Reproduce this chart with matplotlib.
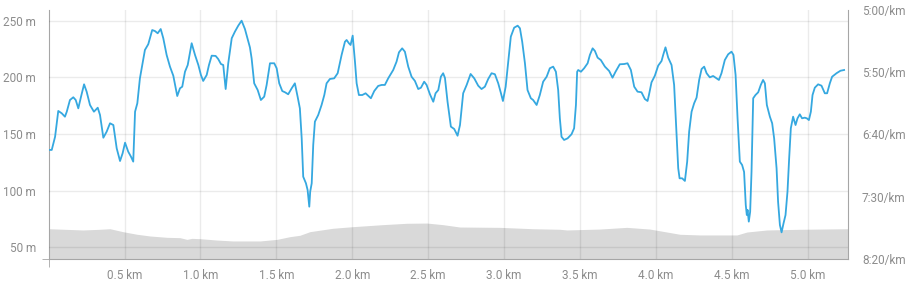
import matplotlib
matplotlib.use("Agg")
import matplotlib.pyplot as plt

plt.rcParams['font.family'] = ['Roboto', 'DejaVu Sans']

# pace (s/km) against distance (km)
pace_km = [0.0, 0.020, 0.042, 0.063, 0.086, 0.107, 0.119, 0.140, 0.162, 0.178, 0.195, 0.213, 0.233, 0.250,
           0.272, 0.298, 0.323, 0.338, 0.360, 0.382, 0.404, 0.426, 0.448, 0.470, 0.487, 0.503, 0.524, 0.542,
           0.557, 0.569, 0.584, 0.601, 0.634, 0.656, 0.682, 0.700, 0.718, 0.738, 0.755, 0.777, 0.799, 0.821,
           0.847, 0.865, 0.880, 0.898, 0.916, 0.942, 0.964, 0.986, 1.003, 1.018, 1.041, 1.056, 1.074, 1.100,
           1.117, 1.135, 1.150, 1.166, 1.183, 1.206, 1.227, 1.249, 1.271, 1.293, 1.326, 1.337, 1.354, 1.377,
           1.398, 1.420, 1.436, 1.458, 1.486, 1.502, 1.519, 1.539, 1.557, 1.578, 1.601, 1.622, 1.640, 1.655,
           1.667, 1.677, 1.695, 1.706, 1.717, 1.723, 1.733, 1.743, 1.754, 1.776, 1.798, 1.816, 1.831, 1.853,
           1.881, 1.904, 1.930, 1.952, 1.963, 1.978, 1.989, 2.003, 2.018, 2.029, 2.044, 2.066, 2.088, 2.105,
           2.123, 2.145, 2.171, 2.194, 2.215, 2.237, 2.270, 2.292, 2.308, 2.329, 2.347, 2.369, 2.391, 2.413,
           2.435, 2.453, 2.474, 2.490, 2.512, 2.534, 2.549, 2.567, 2.584, 2.599, 2.611, 2.628, 2.650, 2.672,
           2.694, 2.710, 2.731, 2.754, 2.780, 2.804, 2.830, 2.852, 2.874, 2.896, 2.918, 2.940, 2.962, 2.980,
           2.993, 3.011, 3.028, 3.045, 3.067, 3.090, 3.105, 3.120, 3.138, 3.155, 3.177, 3.192, 3.215, 3.236,
           3.258, 3.281, 3.302, 3.324, 3.342, 3.357, 3.368, 3.379, 3.396, 3.419, 3.445, 3.462, 3.474, 3.482,
           3.489, 3.507, 3.528, 3.551, 3.566, 3.584, 3.599, 3.617, 3.638, 3.665, 3.693, 3.715, 3.735, 3.763,
           3.792, 3.814, 3.836, 3.858, 3.880, 3.906, 3.928, 3.946, 3.955, 3.972, 3.994, 4.016, 4.038, 4.049,
           4.064, 4.082, 4.104, 4.121, 4.134, 4.148, 4.157, 4.174, 4.192, 4.207, 4.220, 4.236, 4.253, 4.269,
           4.286, 4.302, 4.319, 4.335, 4.356, 4.378, 4.400, 4.416, 4.433, 4.455, 4.477, 4.499, 4.512, 4.526,
           4.539, 4.554, 4.569, 4.582, 4.593, 4.600, 4.605, 4.613, 4.622, 4.631, 4.642, 4.657, 4.675, 4.692,
           4.707, 4.719, 4.732, 4.752, 4.767, 4.780, 4.796, 4.806, 4.818, 4.829, 4.842, 4.855, 4.868, 4.879,
           4.890, 4.905, 4.921, 4.934, 4.949, 4.964, 4.982, 4.995, 5.009, 5.022, 5.033, 5.048, 5.070, 5.092,
           5.114, 5.129, 5.147, 5.162, 5.191, 5.217, 5.241]
pace_sec = [412.4, 412.4, 401.8, 381.1, 383.0, 385.7, 381.7, 372.3, 370.1, 372.3, 379.0, 369.6, 359.7, 365.6,
            376.3, 381.7, 378.5, 384.3, 402.6, 397.7, 391.0, 392.4, 411.1, 421.3, 415.1, 406.6, 413.8, 417.8,
            421.8, 381.7, 374.9, 354.9, 332.1, 327.5, 316.1, 316.9, 318.7, 315.3, 322.7, 336.1, 345.5, 352.8,
            369.1, 362.9, 361.6, 349.6, 344.2, 326.7, 336.1, 344.2, 352.2, 357.0, 352.2, 344.2, 336.7, 336.9,
            339.4, 343.4, 344.2, 363.5, 342.8, 322.7, 317.4, 312.6, 308.6, 315.3, 330.1, 338.8, 358.9, 364.3,
            372.3, 369.6, 360.2, 342.8, 342.8, 346.8, 358.9, 365.1, 366.1, 367.7, 362.9, 358.9, 369.6, 379.0,
            403.1, 433.9, 439.2, 444.6, 458.0, 445.9, 439.2, 408.4, 389.7, 384.3, 376.3, 368.3, 358.9, 355.4,
            354.9, 350.8, 336.1, 325.5, 324.1, 326.7, 328.1, 320.6, 341.5, 358.9, 368.3, 368.3, 366.9, 368.8,
            370.9, 365.1, 361.0, 360.2, 360.2, 354.9, 348.2, 341.5, 334.0, 330.8, 333.5, 345.5, 353.6, 357.0,
            363.5, 362.4, 357.6, 360.2, 367.7, 373.7, 366.9, 364.3, 353.6, 350.8, 354.6, 373.7, 393.7, 395.6,
            401.0, 392.4, 366.9, 360.2, 351.4, 354.9, 360.8, 363.5, 361.6, 355.4, 350.8, 351.6, 358.9, 366.9,
            373.1, 361.6, 341.5, 321.4, 314.2, 312.6, 314.7, 325.5, 342.8, 364.3, 370.9, 372.3, 376.3, 368.3,
            357.6, 353.6, 346.8, 345.5, 349.6, 364.3, 387.0, 401.8, 404.4, 403.1, 399.8, 395.0, 376.3, 349.6,
            348.2, 349.6, 346.8, 342.8, 336.1, 330.8, 332.9, 338.3, 340.2, 345.5, 349.0, 354.4, 349.6, 343.6,
            343.4, 342.8, 348.2, 361.6, 365.6, 366.1, 371.5, 373.1, 368.3, 358.1, 352.8, 344.7, 341.0, 336.1,
            330.0, 338.3, 344.2, 360.2, 392.4, 427.1, 435.2, 435.2, 437.3, 421.8, 397.7, 381.7, 374.9, 370.4,
            356.2, 347.4, 345.5, 350.8, 354.1, 353.0, 354.9, 356.2, 350.8, 340.2, 335.6, 333.5, 336.1, 352.2,
            387.0, 421.8, 424.5, 430.1, 456.6, 464.7, 460.6, 470.0, 462.0, 429.9, 370.9, 368.3, 366.1, 360.2,
            356.2, 358.9, 376.3, 385.7, 391.0, 403.1, 427.1, 454.0, 472.7, 478.6, 471.3, 464.7, 445.9, 419.1,
            395.0, 385.7, 392.4, 387.0, 383.8, 387.0, 386.5, 387.0, 388.4, 381.7, 368.3, 362.4, 359.7, 360.8,
            366.9, 366.9, 358.9, 353.6, 350.8, 348.8, 348.2]

# elevation (m)
elev_km = [0.0, 0.226, 0.338, 0.404, 0.489, 0.582, 0.667, 0.779, 0.865, 0.911, 0.944, 0.997, 1.109, 1.214,
           1.392, 1.504, 1.590, 1.655, 1.721, 1.873, 2.004, 2.202, 2.360, 2.492, 2.597, 2.709, 2.973, 3.190,
           3.368, 3.414, 3.631, 3.809, 3.961, 4.159, 4.291, 4.535, 4.601, 4.733, 4.950, 5.267]
elev_m = [66.4, 65.3, 65.9, 66.4, 63.8, 61.5, 60.0, 58.8, 58.5, 57.0, 57.9, 57.6, 56.4, 55.6,
          55.6, 57.0, 59.4, 60.6, 63.8, 66.8, 68.2, 70.0, 71.2, 71.4, 70.0, 67.9, 67.6, 66.4,
          65.9, 65.3, 66.1, 67.6, 66.1, 61.5, 60.9, 60.9, 63.5, 65.3, 65.9, 66.4]

x_ticks = [0.5, 1.0, 1.5, 2.0, 2.5, 3.0, 3.5, 4.0, 4.5, 5.0]
elev_ticks = [50, 100, 150, 200, 250]
pace_ticks = [300, 350, 400, 450, 500]

label_col = '#8c8c8c'
spine_col = '#a6a6a6'

fig = plt.figure(figsize=(9.07, 2.87), dpi=100)
ax = fig.add_axes([0.0537, 0.0976, 0.8813, 0.8676])
ax2 = ax.twinx()

ax.fill_between(elev_km, elev_m, 0, color='#d9d9d9', lw=0, zorder=1)
ax.set_xlim(0, 5.267)
ax.set_ylim(39.7, 259.4)
ax.set_axisbelow(False)
ax.grid(True, color='black', alpha=0.08, lw=1)

ax2.plot(pace_km, pace_sec, color='#35a8e0', lw=1.3, solid_joinstyle='round')
ax2.set_ylim(500, 300)

ax.set_xticks(x_ticks)
ax.set_xticklabels([f'{v:.1f} km' for v in x_ticks])
ax.set_xticks([0], minor=True)
ax.set_yticks(elev_ticks)
ax.set_yticklabels([f'{v} m' for v in elev_ticks])
ax.set_yticks([39.7], minor=True)
ax2.set_yticks(pace_ticks)
ax2.set_yticklabels([f'{v // 60}:{v % 60:02d}/km' for v in pace_ticks])
ax2.set_yticks([300, 500], minor=True)

ax.tick_params(axis='x', which='major', length=0, pad=7, labelsize=8.5, labelcolor=label_col)
ax.tick_params(axis='x', which='minor', length=6, color=spine_col)
ax.tick_params(axis='y', which='major', length=0, pad=9, labelsize=8.5, labelcolor=label_col)
ax.tick_params(axis='y', which='minor', length=5, color=spine_col)
ax2.tick_params(axis='y', which='major', length=0, pad=10, labelsize=8.5, labelcolor=label_col)
ax2.tick_params(axis='y', which='minor', length=5, color=spine_col)

for a in (ax, ax2):
    a.spines['top'].set_visible(False)
    for s in ('left', 'right', 'bottom'):
        a.spines[s].set_color(spine_col)
ax2.spines['left'].set_visible(False)
ax2.spines['bottom'].set_visible(False)
ax.spines['right'].set_visible(False)

fig.savefig('out.png', dpi=100)
